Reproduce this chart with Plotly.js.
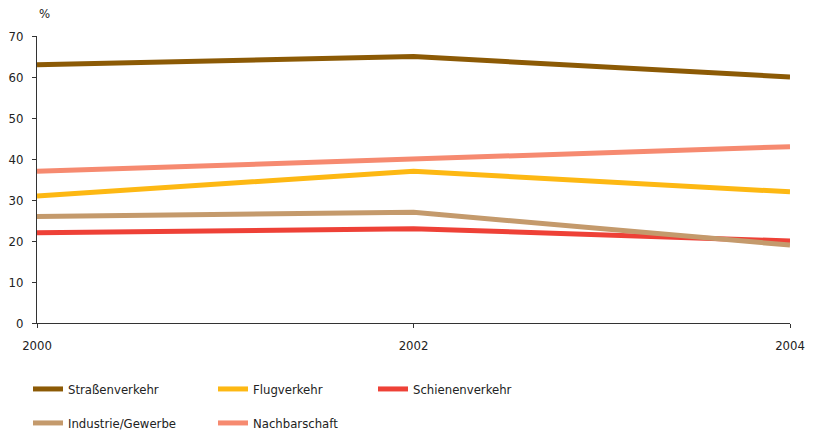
<!DOCTYPE html>
<html><head><meta charset="utf-8">
<script src="https://cdn.plot.ly/plotly-3.0.1.min.js"></script>
<style>html,body{margin:0;padding:0;background:#fff}</style>
</head><body>
<div id="chart" style="width:813px;height:432px"></div>
<script>
var years = [2000, 2002, 2004];
var seriesNames = ["Straßenverkehr", "Flugverkehr", "Schienenverkehr", "Industrie/Gewerbe", "Nachbarschaft"];
var strassenverkehr = [63, 65, 60];
var flugverkehr = [31, 37, 32];
var schienenverkehr = [22, 23, 20];
var industrieGewerbe = [26, 27, 19];
var nachbarschaft = [37, 40, 43];
var yTicks = [0, 10, 20, 30, 40, 50, 60, 70];
var xTicks = [2000, 2002, 2004];

var seriesValues = [strassenverkehr, flugverkehr, schienenverkehr, industrieGewerbe, nachbarschaft];
var colors = ["#8C5A05", "#FDB813", "#EE4137", "#C49A6C", "#F68A70"];
var legendIds = ["legend", "legend2", "legend3", "legend4", "legend5"];
var legendPos = [[28, 389], [213, 389], [373, 389], [28, 423], [213, 423]];

var FONT = "'DejaVu Sans Condensed', 'Liberation Sans Narrow', sans-serif";
var FS = 13;
var W = 813, H = 432;

var traces = seriesNames.map(function (n, i) {
  return {
    x: years, y: seriesValues[i], name: n, mode: "lines", type: "scatter",
    line: {color: colors[i], width: 5},
    legend: legendIds[i], hoverinfo: "skip"
  };
});

var layout = {
  width: W, height: H,
  margin: {l: 37, r: 23, t: 36, b: 109, autoexpand: false},
  paper_bgcolor: "#fff", plot_bgcolor: "#fff",
  font: {family: FONT, size: FS, color: "#222"},
  showlegend: true,
  xaxis: {
    range: [2000, 2004], tickvals: xTicks, ticktext: xTicks.map(String),
    showgrid: false, zeroline: false, showline: true, linecolor: "#333", linewidth: 1,
    ticks: "outside", ticklen: 4, tickcolor: "#333", ticklabelstandoff: 6,
    tickfont: {family: FONT, size: FS, color: "#222"}
  },
  yaxis: {
    range: [0, 70], tickvals: yTicks, ticktext: yTicks.map(String),
    showgrid: false, zeroline: false, showline: true, linecolor: "#333", linewidth: 1,
    ticks: "outside", ticklen: 4, tickcolor: "#333", ticklabelstandoff: 6,
    tickfont: {family: FONT, size: FS, color: "#222"}
  },
  annotations: [{
    text: "%", xref: "paper", yref: "paper", x: 0, y: 1, xanchor: "left", yanchor: "bottom",
    xshift: 0, yshift: 13, showarrow: false, font: {family: FONT, size: FS, color: "#222"}
  }]
};

legendIds.forEach(function (id, i) {
  layout[id] = {
    xref: "container", yref: "container",
    x: legendPos[i][0] / W, y: 1 - legendPos[i][1] / H,
    xanchor: "left", yanchor: "middle",
    orientation: "v", bgcolor: "rgba(0,0,0,0)", borderwidth: 0,
    itemwidth: 30,
    font: {family: FONT, size: FS, color: "#222"}
  };
});

Plotly.newPlot("chart", traces, layout, {displayModeBar: false, staticPlot: true});
</script>
</body></html>
